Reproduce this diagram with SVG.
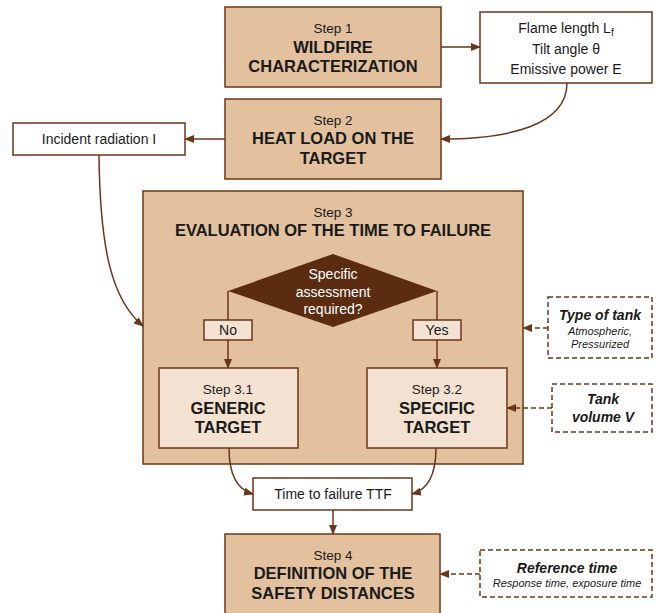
<svg xmlns="http://www.w3.org/2000/svg" width="661" height="613" viewBox="0 0 661 613">
<defs>
<marker id="ah" markerUnits="userSpaceOnUse" markerWidth="10" markerHeight="8" refX="9" refY="4" orient="auto">
<path d="M0,0 L10,4 L0,8 z" fill="#6b3618"/>
</marker>
<style>
.step{fill:#e3c19f;stroke:#6b3618;stroke-width:1.5}
.inner{fill:#f3e2d1;stroke:#6b3618;stroke-width:1.5}
.white{fill:#ffffff;stroke:#6b3618;stroke-width:1.5}
.dash{fill:#ffffff;stroke:#6b3618;stroke-width:1.5;stroke-dasharray:5,3}
.c{fill:none;stroke:#6b3618;stroke-width:1.5}
.cd{fill:none;stroke:#6b3618;stroke-width:1.5;stroke-dasharray:5,3}
text{font-family:"Liberation Sans",Arial,sans-serif;text-anchor:middle;fill:#1a1a1a}
.s{font-size:13.5px}
.b{font-size:16.5px;font-weight:bold}
.n{font-size:14px}
.bi{font-size:14px;font-weight:bold;font-style:italic}
.i{font-size:11px;font-style:italic}
.w{font-size:14px;fill:#ffffff}
</style>
</defs>
<g id="step3">
<rect class="step" x="143" y="191" width="380" height="273"/>
<text class="s" x="333" y="217">Step 3</text>
<text class="b" x="333" y="236">EVALUATION OF THE TIME TO FAILURE</text>
</g>
<g id="connectors">
<line class="c" x1="441" y1="47" x2="480" y2="47" marker-end="url(#ah)"/>
<path class="c" d="M567,83 C567,125 510,139 441,139" marker-end="url(#ah)"/>
<line class="c" x1="225" y1="139" x2="185" y2="139" marker-end="url(#ah)"/>
<path class="c" d="M99,155 C100,250 112,300 143,326" marker-end="url(#ah)"/>
<line class="c" x1="228" y1="291" x2="228" y2="320"/>
<line class="c" x1="437" y1="291" x2="437" y2="320"/>
<line class="c" x1="228" y1="340" x2="228" y2="368" marker-end="url(#ah)"/>
<line class="c" x1="437" y1="340" x2="437" y2="368" marker-end="url(#ah)"/>
<path class="c" d="M229,448 C229,475 238,490 253,494" marker-end="url(#ah)"/>
<path class="c" d="M436,448 C436,475 427,490 412,494" marker-end="url(#ah)"/>
<line class="c" x1="333" y1="510" x2="333" y2="534" marker-end="url(#ah)"/>
<line class="cd" x1="548" y1="328" x2="523" y2="328" marker-end="url(#ah)"/>
<line class="cd" x1="552" y1="408" x2="507" y2="408" marker-end="url(#ah)"/>
<line class="cd" x1="480" y1="574" x2="440" y2="574" marker-end="url(#ah)"/>
</g>
<g id="step1">
<rect class="step" x="225" y="7" width="216" height="80"/>
<text class="s" x="333" y="33">Step 1</text>
<text class="b" x="333" y="53">WILDFIRE</text>
<text class="b" x="333" y="72">CHARACTERIZATION</text>
</g>
<g id="flame">
<rect class="white" x="480" y="12" width="172" height="71"/>
<text class="n" x="566" y="33">Flame length L<tspan font-size="10" dy="3">f</tspan></text>
<text class="n" x="566" y="54">Tilt angle θ</text>
<text class="n" x="566" y="74">Emissive power E</text>
</g>
<g id="step2">
<rect class="step" x="225" y="99" width="216" height="80"/>
<text class="s" x="333" y="125">Step 2</text>
<text class="b" x="333" y="144">HEAT LOAD ON THE</text>
<text class="b" x="333" y="164">TARGET</text>
</g>
<g id="incident">
<rect class="white" x="13" y="123" width="172" height="32"/>
<text class="n" x="99" y="144">Incident radiation I</text>
</g>
<g id="decision">
<polygon points="333,254 437,291 333,327 228,291" fill="#5b2c10"/>
<text class="w" x="333" y="279">Specific</text>
<text class="w" x="333" y="297">assessment</text>
<text class="w" x="333" y="314">required?</text>
</g>
<g id="no">
<rect class="inner" x="204" y="320" width="48" height="20"/>
<text class="n" x="228" y="335">No</text>
</g>
<g id="yes">
<rect class="inner" x="413" y="320" width="48" height="20"/>
<text class="n" x="437" y="335">Yes</text>
</g>
<g id="step31">
<rect class="inner" x="159" y="368" width="139" height="80"/>
<text class="s" x="228" y="394">Step 3.1</text>
<text class="b" x="228" y="414">GENERIC</text>
<text class="b" x="228" y="433">TARGET</text>
</g>
<g id="step32">
<rect class="inner" x="367" y="368" width="140" height="80"/>
<text class="s" x="437" y="394">Step 3.2</text>
<text class="b" x="437" y="414">SPECIFIC</text>
<text class="b" x="437" y="433">TARGET</text>
</g>
<g id="ttf">
<rect class="white" x="253" y="478" width="159" height="32"/>
<text class="n" x="333" y="499">Time to failure TTF</text>
</g>
<g id="step4">
<rect class="step" x="225" y="534" width="215" height="90"/>
<text class="s" x="333" y="560">Step 4</text>
<text class="b" x="333" y="579">DEFINITION OF THE</text>
<text class="b" x="333" y="599">SAFETY DISTANCES</text>
</g>
<g id="tanktype">
<rect class="dash" x="548" y="297" width="104" height="61"/>
<text class="bi" x="600" y="320">Type of tank</text>
<text class="i" x="600" y="335">Atmospheric,</text>
<text class="i" x="600" y="348">Pressurized</text>
</g>
<g id="tankvolume">
<rect class="dash" x="552" y="384" width="100" height="48"/>
<text class="bi" x="603" y="404">Tank</text>
<text class="bi" x="603" y="422">volume V</text>
</g>
<g id="reftime">
<rect class="dash" x="480" y="550" width="172" height="47"/>
<text class="bi" x="567" y="573">Reference time</text>
<text class="i" x="567" y="587">Response time, exposure time</text>
</g>
</svg>
